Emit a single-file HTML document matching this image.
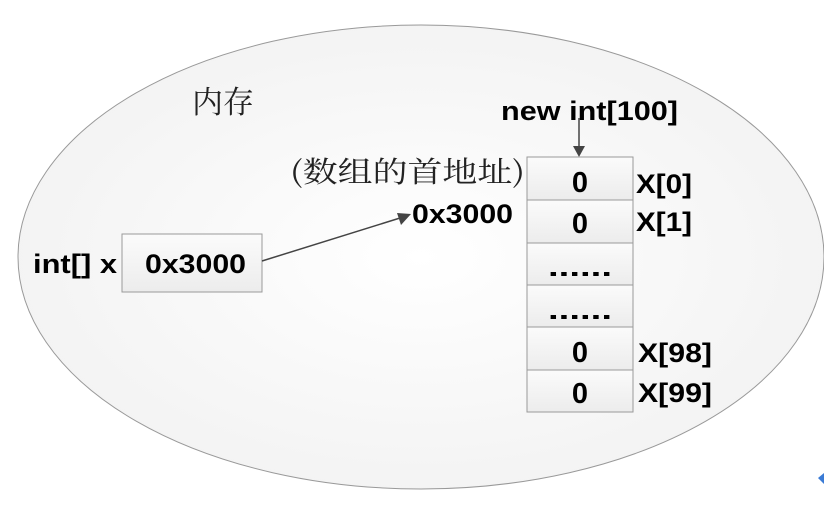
<!DOCTYPE html>
<html><head><meta charset="utf-8"><style>
body{margin:0;width:824px;height:508px;background:#fff;overflow:hidden}
svg text{font-family:"Liberation Sans","Noto Sans CJK SC",sans-serif}
.b{font-weight:bold;font-size:27px;fill:#000}
.s{font-family:'Noto Serif CJK SC',serif !important;fill:#222}
</style></head><body>
<svg width="824" height="508" viewBox="0 0 824 508">
<defs>
<radialGradient id="g" cx="50%" cy="50%" r="60%"><stop offset="0" stop-color="#fff"/><stop offset="1" stop-color="#f1f1f1"/></radialGradient>
<linearGradient id="c" x1="0" y1="0" x2="0" y2="1"><stop offset="0" stop-color="#fbfbfb"/><stop offset="1" stop-color="#ececec"/></linearGradient>
</defs>
<ellipse cx="421" cy="257" rx="403" ry="232" fill="url(#g)" stroke="#999" stroke-width="1"/>
<text x="192" y="113" font-size="31" class="s">内存</text>
<text x="290" y="182" font-size="29" class="s" textLength="235" lengthAdjust="spacingAndGlyphs">(数组的首地址)</text>
<text x="501" y="120" class="b" textLength="177" lengthAdjust="spacingAndGlyphs">new int[100]</text>
<line x1="579" y1="118" x2="579" y2="148" stroke="#444" stroke-width="1.5"/>
<polygon points="573,146 585,146 579,157" fill="#444"/>
<g stroke="#999" fill="url(#c)">
<rect x="527" y="157" width="106" height="43"/>
<rect x="527" y="200" width="106" height="43"/>
<rect x="527" y="243" width="106" height="42"/>
<rect x="527" y="285" width="106" height="42"/>
<rect x="527" y="327" width="106" height="43"/>
<rect x="527" y="370" width="106" height="42"/>
<rect x="122" y="234" width="140" height="58"/>
</g>
<g class="b" text-anchor="middle" style="font-size:29px">
<text x="580" y="192">0</text>
<text x="580" y="233">0</text>
<text x="580" y="362">0</text>
<text x="580" y="403">0</text>
</g>
<g class="b" text-anchor="middle">
<text x="580" y="276" textLength="64" lengthAdjust="spacingAndGlyphs">......</text>
<text x="580" y="319" textLength="64" lengthAdjust="spacingAndGlyphs">......</text>
</g>
<text x="145" y="273" class="b" textLength="101" lengthAdjust="spacingAndGlyphs">0x3000</text>
<text x="636" y="193" class="b" textLength="56" lengthAdjust="spacingAndGlyphs">X[0]</text>
<text x="636" y="231" class="b" textLength="56" lengthAdjust="spacingAndGlyphs">X[1]</text>
<text x="638" y="362" class="b" textLength="74" lengthAdjust="spacingAndGlyphs">X[98]</text>
<text x="638" y="402" class="b" textLength="74" lengthAdjust="spacingAndGlyphs">X[99]</text>
<text x="33" y="273" class="b" textLength="84" lengthAdjust="spacingAndGlyphs">int[] x</text>
<text x="412" y="223" class="b" textLength="101" lengthAdjust="spacingAndGlyphs">0x3000</text>
<line x1="262" y1="261" x2="400" y2="218" stroke="#444" stroke-width="1.5"/>
<polygon points="411,214 397,213 401,225" fill="#444"/>
<polygon points="818,478 824,473 824,484" fill="#3a7bd5"/>
</svg>
</body></html>
